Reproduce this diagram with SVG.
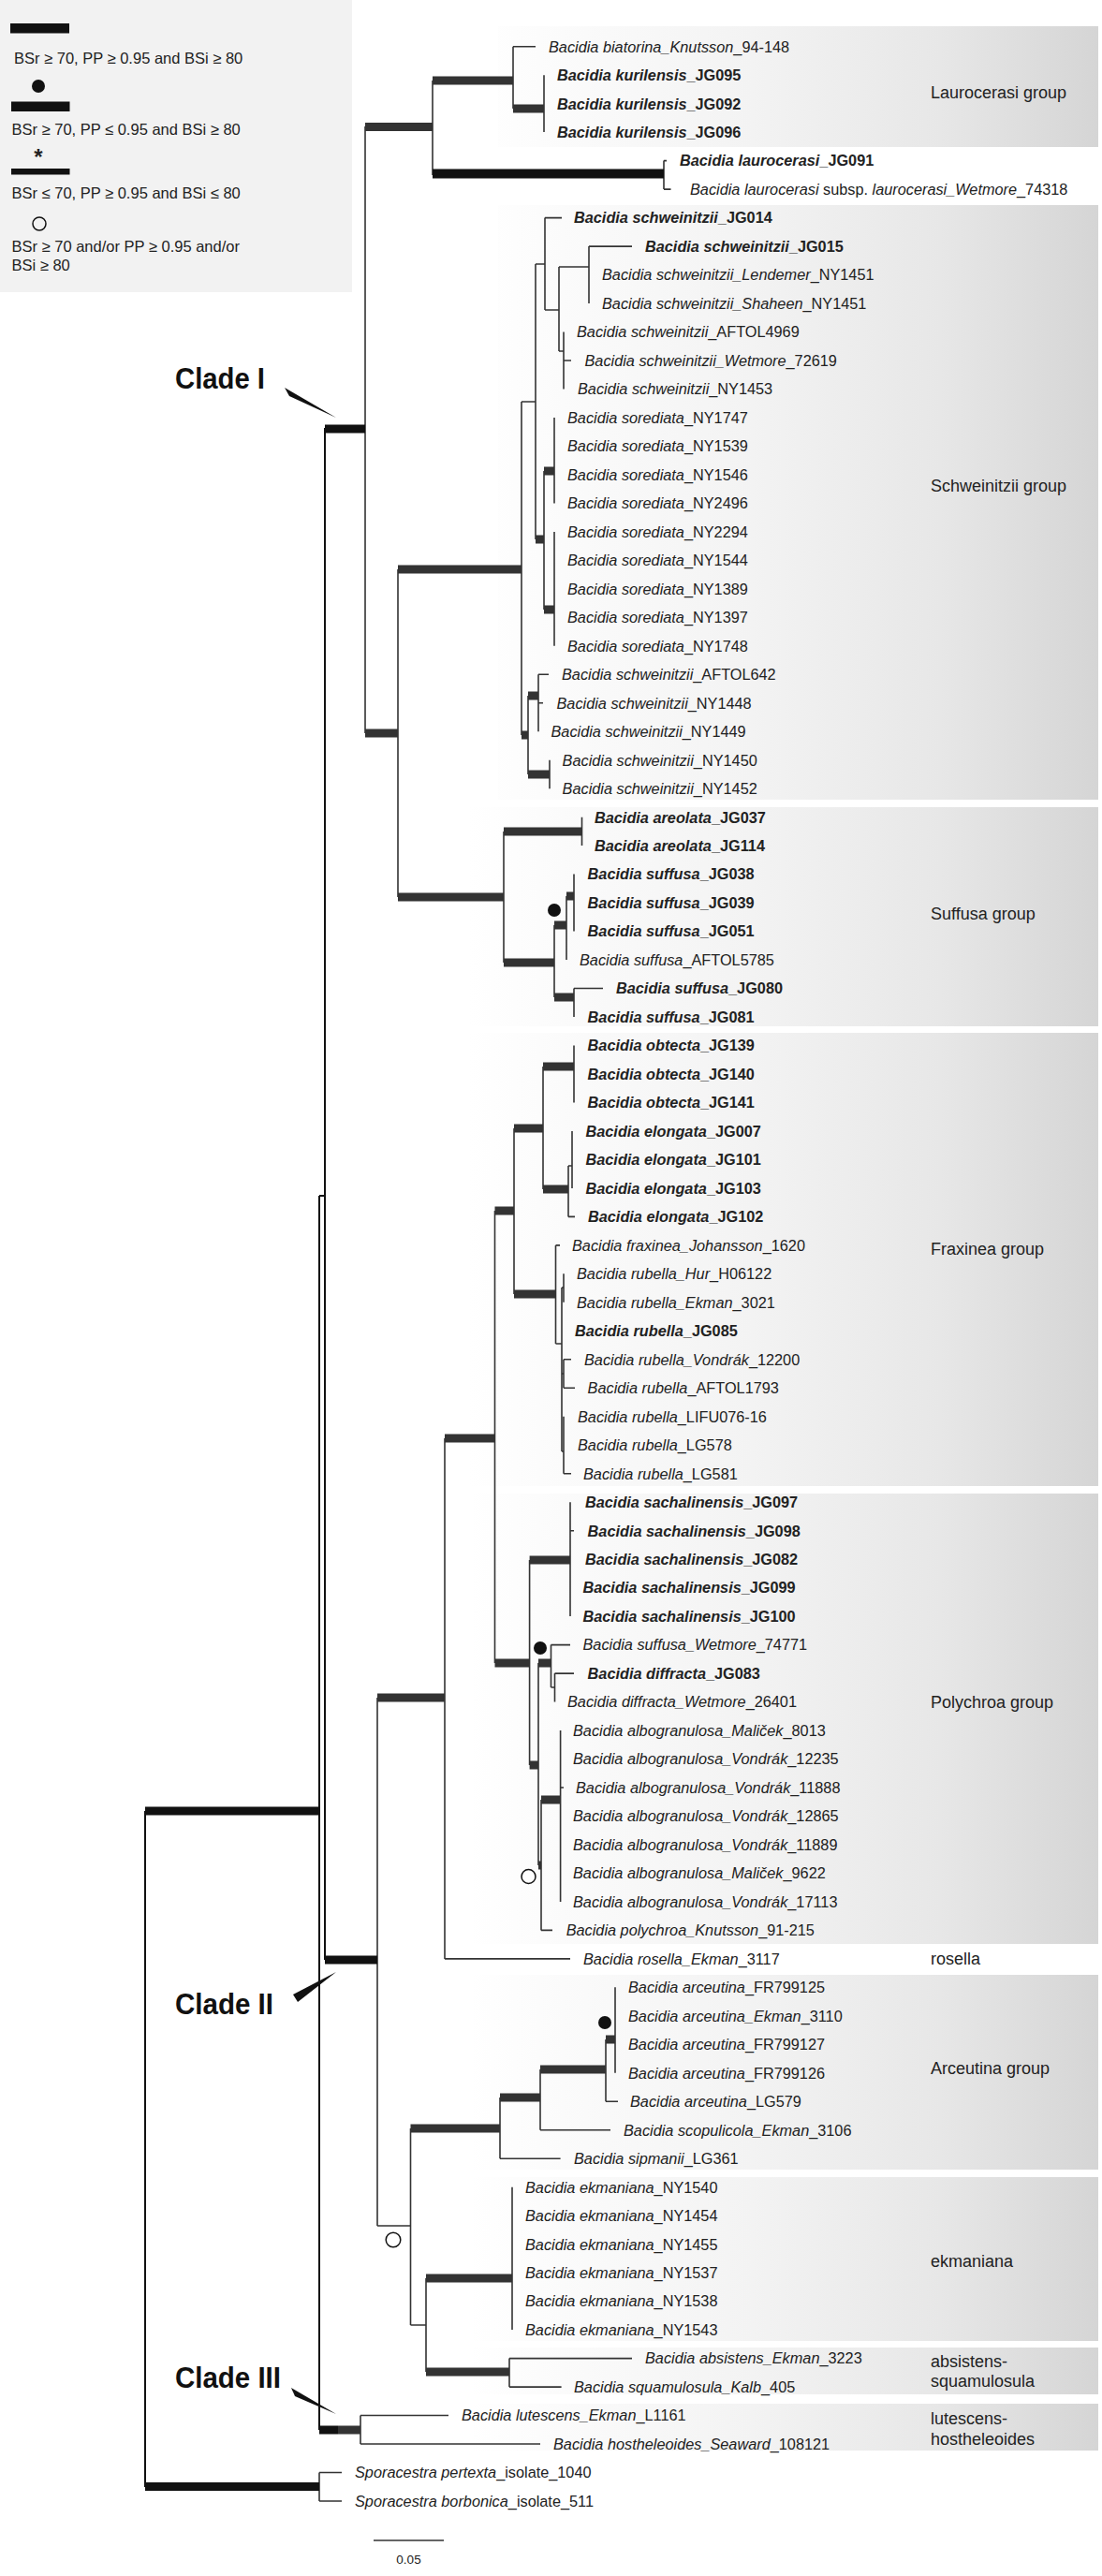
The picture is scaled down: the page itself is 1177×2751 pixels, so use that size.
<svg xmlns="http://www.w3.org/2000/svg" width="1177" height="2751" viewBox="0 0 1177 2751">
<style>
.lf{font-family:"Liberation Sans",Arial,sans-serif;font-size:16.3px;fill:#222}
.b{font-weight:bold}
.i{font-style:italic}
.gl{font-family:"Liberation Sans",Arial,sans-serif;font-size:18px;fill:#222}
.lg{font-family:"Liberation Sans",Arial,sans-serif;font-size:16.5px;fill:#222}
.cl{font-family:"Liberation Sans",Arial,sans-serif;font-size:32px;font-weight:bold;fill:#111}
.box{fill:url(#gb)}
.ln{fill:none;stroke:#333;stroke-width:1.6}
.lk{fill:none;stroke:#111;stroke-width:2}
.tb{fill:#333}
.tk{fill:#111}
</style>
<defs>
<linearGradient id="gb" gradientUnits="userSpaceOnUse" x1="500" y1="0" x2="1173" y2="0">
<stop offset="0" stop-color="#ffffff"/>
<stop offset="0.45" stop-color="#f3f3f3"/>
<stop offset="0.75" stop-color="#e7e7e7"/>
<stop offset="1" stop-color="#d5d5d5"/>
</linearGradient>
</defs>
<rect width="1177" height="2751" fill="#fff"/>

<g id="legend">
<rect x="0" y="0" width="376" height="312" fill="#f2f2f2"/>
<rect class="tk" x="11" y="25" width="63" height="10.5"/>
<text class="lg" x="15" y="68">BSr ≥ 70, PP ≥ 0.95 and BSi ≥ 80</text>
<circle cx="41" cy="92" r="7" fill="#111"/>
<rect class="tk" x="12" y="108.5" width="62.5" height="10.5"/>
<text class="lg" x="12.5" y="144">BSr ≥ 70, PP ≤ 0.95 and BSi ≥ 80</text>
<text class="lg" x="41" y="176" text-anchor="middle" style="font-size:24px;font-weight:bold">*</text>
<rect class="tk" x="12" y="180" width="62.5" height="6.5"/>
<text class="lg" x="12.5" y="212">BSr ≤ 70, PP ≥ 0.95 and BSi ≤ 80</text>
<circle cx="42" cy="239" r="7" fill="none" stroke="#111" stroke-width="1.5"/>
<text class="lg" x="12.5" y="269">BSr ≥ 70 and/or PP ≥ 0.95 and/or</text>
<text class="lg" x="12.5" y="289">BSi ≥ 80</text>
</g>

<g id="group-boxes">
<g id="grp-laurocerasi"><rect class="box" x="532" y="28" width="641" height="129"/><text class="gl" x="994" y="105">Laurocerasi group</text></g>
<g id="grp-schweinitzii"><rect class="box" x="532" y="219" width="641" height="635"/><text class="gl" x="994" y="525">Schweinitzii group</text></g>
<g id="grp-suffusa"><rect class="box" x="501" y="862" width="672" height="234"/><text class="gl" x="994" y="982">Suffusa group</text></g>
<g id="grp-fraxinea"><rect class="box" x="501" y="1103" width="672" height="484"/><text class="gl" x="994" y="1340">Fraxinea group</text></g>
<g id="grp-polychroa"><rect class="box" x="505" y="1595" width="668" height="481"/><text class="gl" x="994" y="1824">Polychroa group</text></g>
<g id="grp-rosella"><text class="gl" x="994" y="2098">rosella</text></g>
<g id="grp-arceutina"><rect class="box" x="505" y="2109" width="668" height="208"/><text class="gl" x="994" y="2215">Arceutina group</text></g>
<g id="grp-ekmaniana"><rect class="box" x="505" y="2325" width="668" height="175"/><text class="gl" x="994" y="2421">ekmaniana</text></g>
<g id="grp-absistens"><rect class="box" x="505" y="2507" width="668" height="50"/><text class="gl" x="994" y="2528">absistens-</text><text class="gl" x="994" y="2549">squamulosula</text></g>
<g id="grp-lutescens"><rect class="box" x="505" y="2567" width="668" height="50"/><text class="gl" x="994" y="2589">lutescens-</text><text class="gl" x="994" y="2611">hostheleoides</text></g>
</g>

<g id="connectors">
<path class="lk" d="M155 1934V2656M341 1277V2595M341 1277H347M347 457V2093"/>
<path class="ln" d="M341 2640.5V2671M341 2640.5H365M341 2671H365M385 2579.5V2610M385 2579.5H479M385 2610H577"/>
<path class="ln" d="M390 135V783M462 86V187M548 49.7V116M548 49.7H572M581 80.2V141.1M709 171.6V202.1M709 171.6H712M709 202.1H716.5
M425 608V958M557 429V785M557 429H572M572 282V576M572 282H582M582 232.6V331M582 232.6H600M582 331H597
M597 285V375M597 285H629M597 375H602M629 263.1V324M629 263.1H675M602 354.5V415.5M602 385H610
M592 445.9V537.4M581 503V651M592 567.9V689.8M564 743V827M575 720.3V781.2M575 720.3H586M575 750.7H580M587 811.7V842.2
M538 888V1028M621.5 872.7V903.1M592 988V1065M605 957V1025.1M613 933.6V994.6M613 1055.5V1086M613 1055.5H644"/>
<path class="ln" d="M403 1813V2377M475 1536V2091.9M475 2091.9H609M528.5 1293V1776M549 1205V1382M580 1139V1270M613 1116.5V1177.5
M607 1245V1299.4M607 1245H611M607 1299.4H614M611 1207.9V1268.9
M593.5 1329.9V1435M593.5 1329.9H598M593.5 1435H600M600 1375V1550
M600 1375H602M602 1360.3V1390.8M600 1467H602M602 1451.8V1482.3M602 1451.8H610M602 1482.3H614
M600 1550H602M602 1512.7V1573.7M602 1573.7H610
M565.6 1666V1885M609 1604.2V1726.1M609 1634.7H613M575 1776V1992
M588.5 1756.6V1802M588.5 1756.6H609M588.5 1802H592.5M592.5 1787.1V1817.5M592.5 1787.1H613
M578 1922V2061.4M578 2061.4H590M598.6 1848V2030.9M598.6 1909H602
M403 2377H438.5M438.5 2273V2483M534 2240V2305.2M534 2305.2H598.6M577 2210V2274.7M577 2274.7H652
M647 2178V2244.3M647 2244.3H660M657 2122.3V2213.8
M438.5 2483H455M455 2433V2533M547 2335.7V2488.1M544 2518.6V2549.1M544 2518.6H675M544 2549.1H599.6"/>
<rect class="tk" x="155" y="1929.5" width="186" height="9"/>
<rect class="tk" x="155" y="2651" width="186" height="9"/>
<rect class="tk" x="347" y="453.5" width="43" height="9"/>
<rect class="tk" x="462" y="180.5" width="247" height="10"/>
<rect class="tk" x="347" y="2088.5" width="56" height="9"/>
<rect class="tk" x="341" y="2590.5" width="20" height="9"/>
<rect class="tb" x="361" y="2590.5" width="24" height="9"/>
<rect class="tb" x="390" y="131" width="72" height="9"/>
<rect class="tb" x="462" y="81.5" width="86" height="9"/>
<rect class="tb" x="548" y="111.5" width="33" height="9"/>
<rect class="tb" x="390" y="778.5" width="35" height="9"/>
<rect class="tb" x="425" y="603.5" width="132" height="9"/>
<rect class="tb" x="572" y="571.5" width="9" height="9"/>
<rect class="tb" x="581" y="498.5" width="11" height="9"/>
<rect class="tb" x="581" y="646.5" width="11" height="9"/>
<rect class="tb" x="557" y="780.5" width="7" height="9"/>
<rect class="tb" x="564" y="738.5" width="11" height="9"/>
<rect class="tb" x="564" y="822.5" width="23" height="9"/>
<rect class="tb" x="425" y="953.5" width="113" height="9"/>
<rect class="tb" x="538" y="883.5" width="83.5" height="9"/>
<rect class="tb" x="538" y="1023.5" width="54" height="9"/>
<rect class="tb" x="592" y="983.5" width="13" height="9"/>
<rect class="tb" x="605" y="952.5" width="8" height="9"/>
<rect class="tb" x="592" y="1060.5" width="21" height="9"/>
<rect class="tb" x="403" y="1808.5" width="72" height="9"/>
<rect class="tb" x="475" y="1531.5" width="53.5" height="9"/>
<rect class="tb" x="528.5" y="1288.5" width="20.5" height="9"/>
<rect class="tb" x="549" y="1200.5" width="31" height="9"/>
<rect class="tb" x="580" y="1134.5" width="33" height="9"/>
<rect class="tb" x="580" y="1265.5" width="27" height="9"/>
<rect class="tb" x="549" y="1377.5" width="44.5" height="9"/>
<rect class="tb" x="528.5" y="1771.5" width="37.1" height="9"/>
<rect class="tb" x="565.6" y="1661.5" width="43.4" height="9"/>
<rect class="tb" x="565.6" y="1880.5" width="9.4" height="9"/>
<rect class="tb" x="575" y="1771.5" width="13.5" height="9"/>
<rect class="tb" x="575" y="1987.5" width="3" height="9"/>
<rect class="tb" x="578" y="1917.5" width="20.6" height="9"/>
<rect class="tb" x="438.5" y="2268.5" width="95.5" height="9"/>
<rect class="tb" x="534" y="2235.5" width="43" height="9"/>
<rect class="tb" x="577" y="2205.5" width="70" height="9"/>
<rect class="tb" x="647" y="2173.5" width="10" height="9"/>
<rect class="tb" x="455" y="2428.5" width="92" height="9"/>
<rect class="tb" x="455" y="2528.5" width="89" height="9"/>
</g>

<g id="support-marks">
<circle cx="592" cy="972" r="7" fill="#111"/>
<circle cx="577" cy="1760" r="7" fill="#111"/>
<circle cx="646" cy="2160" r="7" fill="#111"/>
<circle cx="564.5" cy="2004" r="7.5" fill="#fff" stroke="#111" stroke-width="1.5"/>
<circle cx="420" cy="2392" r="7.8" fill="#fff" stroke="#111" stroke-width="1.5"/>
</g>

<g id="clade-labels">
<g id="clade-I"><text class="cl" x="187" y="415" textLength="96" lengthAdjust="spacingAndGlyphs">Clade I</text><polygon points="304,414 309,423 359,446" fill="#111"/></g>
<g id="clade-II"><text class="cl" x="187" y="2151" textLength="105" lengthAdjust="spacingAndGlyphs">Clade II</text><polygon points="313,2130 318,2138 359,2106" fill="#111"/></g>
<g id="clade-III"><text class="cl" x="187" y="2550" textLength="113" lengthAdjust="spacingAndGlyphs">Clade III</text><polygon points="311,2550 315,2559 359,2578" fill="#111"/></g>
</g>

<g id="leaves">
<g id="t00"><text class="lf" x="586" y="55.5"><tspan class="i">Bacidia biatorina_Knutsson</tspan>_94-148</text></g>
<g id="t01"><text class="lf b" x="595" y="86"><tspan class="i">Bacidia kurilensis</tspan>_JG095</text></g>
<g id="t02"><text class="lf b" x="595" y="116.5"><tspan class="i">Bacidia kurilensis</tspan>_JG092</text></g>
<g id="t03"><text class="lf b" x="595" y="146.9"><tspan class="i">Bacidia kurilensis</tspan>_JG096</text></g>
<g id="t04"><text class="lf b" x="726" y="177.4"><tspan class="i">Bacidia laurocerasi</tspan>_JG091</text></g>
<g id="t05"><text class="lf" x="737" y="207.9"><tspan class="i">Bacidia laurocerasi</tspan> subsp. <tspan class="i">laurocerasi_Wetmore</tspan>_74318</text></g>
<g id="t06"><text class="lf b" x="613" y="238.4"><tspan class="i">Bacidia schweinitzii</tspan>_JG014</text></g>
<g id="t07"><text class="lf b" x="689" y="268.9"><tspan class="i">Bacidia schweinitzii</tspan>_JG015</text></g>
<g id="t08"><text class="lf" x="643" y="299.3"><tspan class="i">Bacidia schweinitzii_Lendemer</tspan>_NY1451</text></g>
<g id="t09"><text class="lf" x="643" y="329.8"><tspan class="i">Bacidia schweinitzii_Shaheen</tspan>_NY1451</text></g>
<g id="t10"><text class="lf" x="616" y="360.3"><tspan class="i">Bacidia schweinitzii</tspan>_AFTOL4969</text></g>
<g id="t11"><text class="lf" x="624.5" y="390.8"><tspan class="i">Bacidia schweinitzii_Wetmore</tspan>_72619</text></g>
<g id="t12"><text class="lf" x="617" y="421.3"><tspan class="i">Bacidia schweinitzii</tspan>_NY1453</text></g>
<g id="t13"><text class="lf" x="606" y="451.7"><tspan class="i">Bacidia sorediata</tspan>_NY1747</text></g>
<g id="t14"><text class="lf" x="606" y="482.2"><tspan class="i">Bacidia sorediata</tspan>_NY1539</text></g>
<g id="t15"><text class="lf" x="606" y="512.7"><tspan class="i">Bacidia sorediata</tspan>_NY1546</text></g>
<g id="t16"><text class="lf" x="606" y="543.2"><tspan class="i">Bacidia sorediata</tspan>_NY2496</text></g>
<g id="t17"><text class="lf" x="606" y="573.7"><tspan class="i">Bacidia sorediata</tspan>_NY2294</text></g>
<g id="t18"><text class="lf" x="606" y="604.1"><tspan class="i">Bacidia sorediata</tspan>_NY1544</text></g>
<g id="t19"><text class="lf" x="606" y="634.6"><tspan class="i">Bacidia sorediata</tspan>_NY1389</text></g>
<g id="t20"><text class="lf" x="606" y="665.1"><tspan class="i">Bacidia sorediata</tspan>_NY1397</text></g>
<g id="t21"><text class="lf" x="606" y="695.6"><tspan class="i">Bacidia sorediata</tspan>_NY1748</text></g>
<g id="t22"><text class="lf" x="600" y="726.1"><tspan class="i">Bacidia schweinitzii</tspan>_AFTOL642</text></g>
<g id="t23"><text class="lf" x="594.5" y="756.5"><tspan class="i">Bacidia schweinitzii</tspan>_NY1448</text></g>
<g id="t24"><text class="lf" x="588.5" y="787"><tspan class="i">Bacidia schweinitzii</tspan>_NY1449</text></g>
<g id="t25"><text class="lf" x="600.6" y="817.5"><tspan class="i">Bacidia schweinitzii</tspan>_NY1450</text></g>
<g id="t26"><text class="lf" x="600.6" y="848"><tspan class="i">Bacidia schweinitzii</tspan>_NY1452</text></g>
<g id="t27"><text class="lf b" x="635" y="878.5"><tspan class="i">Bacidia areolata</tspan>_JG037</text></g>
<g id="t28"><text class="lf b" x="635" y="908.9"><tspan class="i">Bacidia areolata</tspan>_JG114</text></g>
<g id="t29"><text class="lf b" x="627.6" y="939.4"><tspan class="i">Bacidia suffusa</tspan>_JG038</text></g>
<g id="t30"><text class="lf b" x="627.6" y="969.9"><tspan class="i">Bacidia suffusa</tspan>_JG039</text></g>
<g id="t31"><text class="lf b" x="627.6" y="1000.4"><tspan class="i">Bacidia suffusa</tspan>_JG051</text></g>
<g id="t32"><text class="lf" x="619" y="1030.9"><tspan class="i">Bacidia suffusa</tspan>_AFTOL5785</text></g>
<g id="t33"><text class="lf b" x="658" y="1061.3"><tspan class="i">Bacidia suffusa</tspan>_JG080</text></g>
<g id="t34"><text class="lf b" x="627.6" y="1091.8"><tspan class="i">Bacidia suffusa</tspan>_JG081</text></g>
<g id="t35"><text class="lf b" x="627.6" y="1122.3"><tspan class="i">Bacidia obtecta</tspan>_JG139</text></g>
<g id="t36"><text class="lf b" x="627.6" y="1152.8"><tspan class="i">Bacidia obtecta</tspan>_JG140</text></g>
<g id="t37"><text class="lf b" x="627.6" y="1183.3"><tspan class="i">Bacidia obtecta</tspan>_JG141</text></g>
<g id="t38"><text class="lf b" x="625.5" y="1213.7"><tspan class="i">Bacidia elongata</tspan>_JG007</text></g>
<g id="t39"><text class="lf b" x="625.5" y="1244.2"><tspan class="i">Bacidia elongata</tspan>_JG101</text></g>
<g id="t40"><text class="lf b" x="625.5" y="1274.7"><tspan class="i">Bacidia elongata</tspan>_JG103</text></g>
<g id="t41"><text class="lf b" x="628" y="1305.2"><tspan class="i">Bacidia elongata</tspan>_JG102</text></g>
<g id="t42"><text class="lf" x="611" y="1335.7"><tspan class="i">Bacidia fraxinea_Johansson</tspan>_1620</text></g>
<g id="t43"><text class="lf" x="616" y="1366.1"><tspan class="i">Bacidia rubella_Hur</tspan>_H06122</text></g>
<g id="t44"><text class="lf" x="616" y="1396.6"><tspan class="i">Bacidia rubella_Ekman</tspan>_3021</text></g>
<g id="t45"><text class="lf b" x="614" y="1427.1"><tspan class="i">Bacidia rubella</tspan>_JG085</text></g>
<g id="t46"><text class="lf" x="624" y="1457.6"><tspan class="i">Bacidia rubella_Vondrák</tspan>_12200</text></g>
<g id="t47"><text class="lf" x="627.6" y="1488.1"><tspan class="i">Bacidia rubella</tspan>_AFTOL1793</text></g>
<g id="t48"><text class="lf" x="617" y="1518.5"><tspan class="i">Bacidia rubella</tspan>_LIFU076-16</text></g>
<g id="t49"><text class="lf" x="617" y="1549"><tspan class="i">Bacidia rubella</tspan>_LG578</text></g>
<g id="t50"><text class="lf" x="623" y="1579.5"><tspan class="i">Bacidia rubella</tspan>_LG581</text></g>
<g id="t51"><text class="lf b" x="625" y="1610"><tspan class="i">Bacidia sachalinensis</tspan>_JG097</text></g>
<g id="t52"><text class="lf b" x="627.6" y="1640.5"><tspan class="i">Bacidia sachalinensis</tspan>_JG098</text></g>
<g id="t53"><text class="lf b" x="625" y="1670.9"><tspan class="i">Bacidia sachalinensis</tspan>_JG082</text></g>
<g id="t54"><text class="lf b" x="622.5" y="1701.4"><tspan class="i">Bacidia sachalinensis</tspan>_JG099</text></g>
<g id="t55"><text class="lf b" x="622.5" y="1731.9"><tspan class="i">Bacidia sachalinensis</tspan>_JG100</text></g>
<g id="t56"><text class="lf" x="622.5" y="1762.4"><tspan class="i">Bacidia suffusa_Wetmore</tspan>_74771</text></g>
<g id="t57"><text class="lf b" x="627.6" y="1792.9"><tspan class="i">Bacidia diffracta</tspan>_JG083</text></g>
<g id="t58"><text class="lf" x="606" y="1823.3"><tspan class="i">Bacidia diffracta_Wetmore</tspan>_26401</text></g>
<g id="t59"><text class="lf" x="612" y="1853.8"><tspan class="i">Bacidia albogranulosa_Maliček</tspan>_8013</text></g>
<g id="t60"><text class="lf" x="612" y="1884.3"><tspan class="i">Bacidia albogranulosa_Vondrák</tspan>_12235</text></g>
<g id="t61"><text class="lf" x="615" y="1914.8"><tspan class="i">Bacidia albogranulosa_Vondrák</tspan>_11888</text></g>
<g id="t62"><text class="lf" x="612" y="1945.3"><tspan class="i">Bacidia albogranulosa_Vondrák</tspan>_12865</text></g>
<g id="t63"><text class="lf" x="612" y="1975.7"><tspan class="i">Bacidia albogranulosa_Vondrák</tspan>_11889</text></g>
<g id="t64"><text class="lf" x="612" y="2006.2"><tspan class="i">Bacidia albogranulosa_Maliček</tspan>_9622</text></g>
<g id="t65"><text class="lf" x="612" y="2036.7"><tspan class="i">Bacidia albogranulosa_Vondrák</tspan>_17113</text></g>
<g id="t66"><text class="lf" x="604.7" y="2067.2"><tspan class="i">Bacidia polychroa_Knutsson</tspan>_91-215</text></g>
<g id="t67"><text class="lf" x="623" y="2097.7"><tspan class="i">Bacidia rosella_Ekman</tspan>_3117</text></g>
<g id="t68"><text class="lf" x="671" y="2128.1"><tspan class="i">Bacidia arceutina</tspan>_FR799125</text></g>
<g id="t69"><text class="lf" x="671" y="2158.6"><tspan class="i">Bacidia arceutina_Ekman</tspan>_3110</text></g>
<g id="t70"><text class="lf" x="671" y="2189.1"><tspan class="i">Bacidia arceutina</tspan>_FR799127</text></g>
<g id="t71"><text class="lf" x="671" y="2219.6"><tspan class="i">Bacidia arceutina</tspan>_FR799126</text></g>
<g id="t72"><text class="lf" x="673" y="2250.1"><tspan class="i">Bacidia arceutina</tspan>_LG579</text></g>
<g id="t73"><text class="lf" x="666" y="2280.5"><tspan class="i">Bacidia scopulicola_Ekman</tspan>_3106</text></g>
<g id="t74"><text class="lf" x="613" y="2311"><tspan class="i">Bacidia sipmanii</tspan>_LG361</text></g>
<g id="t75"><text class="lf" x="561" y="2341.5"><tspan class="i">Bacidia ekmaniana</tspan>_NY1540</text></g>
<g id="t76"><text class="lf" x="561" y="2372"><tspan class="i">Bacidia ekmaniana</tspan>_NY1454</text></g>
<g id="t77"><text class="lf" x="561" y="2402.5"><tspan class="i">Bacidia ekmaniana</tspan>_NY1455</text></g>
<g id="t78"><text class="lf" x="561" y="2432.9"><tspan class="i">Bacidia ekmaniana</tspan>_NY1537</text></g>
<g id="t79"><text class="lf" x="561" y="2463.4"><tspan class="i">Bacidia ekmaniana</tspan>_NY1538</text></g>
<g id="t80"><text class="lf" x="561" y="2493.9"><tspan class="i">Bacidia ekmaniana</tspan>_NY1543</text></g>
<g id="t81"><text class="lf" x="689" y="2524.4"><tspan class="i">Bacidia absistens_Ekman</tspan>_3223</text></g>
<g id="t82"><text class="lf" x="613" y="2554.9"><tspan class="i">Bacidia squamulosula_Kalb</tspan>_405</text></g>
<g id="t83"><text class="lf" x="493" y="2585.3"><tspan class="i">Bacidia lutescens_Ekman</tspan>_L1161</text></g>
<g id="t84"><text class="lf" x="591" y="2615.8"><tspan class="i">Bacidia hostheleoides_Seaward</tspan>_108121</text></g>
<g id="t85"><text class="lf" x="379" y="2646.3"><tspan class="i">Sporacestra pertexta</tspan>_isolate_1040</text></g>
<g id="t86"><text class="lf" x="379" y="2676.8"><tspan class="i">Sporacestra borbonica</tspan>_isolate_511</text></g>
</g>

<g id="scale-bar">
<path class="ln" d="M399 2713H474"/>
<text x="436.5" y="2738" text-anchor="middle" style="font-family:'Liberation Sans',Arial,sans-serif;font-size:13.5px;fill:#222">0.05</text>
</g>
</svg>
